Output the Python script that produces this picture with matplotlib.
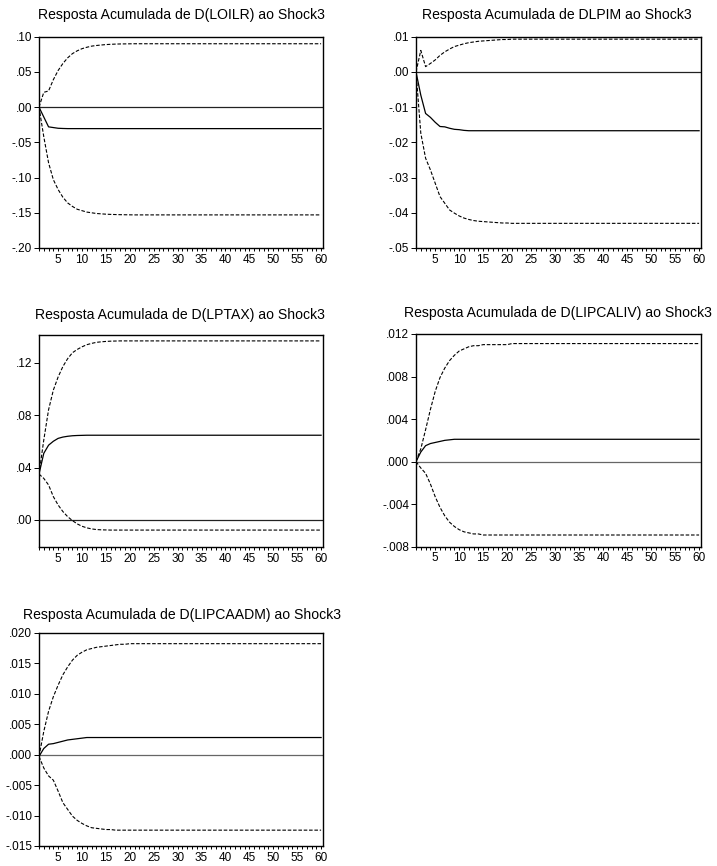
import matplotlib
matplotlib.use("Agg")
import matplotlib.pyplot as plt
from matplotlib.ticker import FixedLocator, MultipleLocator

plt.rcParams['font.family'] = ['Liberation Sans', 'DejaVu Sans']

periods = list(range(1, 61))

titles = [
    "Resposta Acumulada de D(LOILR) ao Shock3",
    "Resposta Acumulada de DLPIM ao Shock3",
    "Resposta Acumulada de D(LPTAX) ao Shock3",
    "Resposta Acumulada de D(LIPCALIV) ao Shock3",
    "Resposta Acumulada de D(LIPCAADM) ao Shock3",
]

# ---- D(LOILR) ----
resp_loilr = [
    0.000, -0.014, -0.028, -0.029, -0.030, -0.0303, -0.0305, -0.0305, -0.0305, -0.0305,
    -0.0305, -0.0305, -0.0305, -0.0305, -0.0305, -0.0305, -0.0305, -0.0305, -0.0305, -0.0305,
    -0.0305, -0.0305, -0.0305, -0.0305, -0.0305, -0.0305, -0.0305, -0.0305, -0.0305, -0.0305,
    -0.0305, -0.0305, -0.0305, -0.0305, -0.0305, -0.0305, -0.0305, -0.0305, -0.0305, -0.0305,
    -0.0305, -0.0305, -0.0305, -0.0305, -0.0305, -0.0305, -0.0305, -0.0305, -0.0305, -0.0305,
    -0.0305, -0.0305, -0.0305, -0.0305, -0.0305, -0.0305, -0.0305, -0.0305, -0.0305, -0.0305,
]
upper_loilr = [
    0.000, 0.021, 0.023, 0.039, 0.052, 0.062, 0.070, 0.076, 0.080, 0.083,
    0.085, 0.0866, 0.0875, 0.0882, 0.0888, 0.0892, 0.0895, 0.0897, 0.0898, 0.0899,
    0.0900, 0.0900, 0.0900, 0.0900, 0.0900, 0.0900, 0.0900, 0.0900, 0.0900, 0.0900,
    0.0900, 0.0900, 0.0900, 0.0900, 0.0900, 0.0900, 0.0900, 0.0900, 0.0900, 0.0900,
    0.0900, 0.0900, 0.0900, 0.0900, 0.0900, 0.0900, 0.0900, 0.0900, 0.0900, 0.0900,
    0.0900, 0.0900, 0.0900, 0.0900, 0.0900, 0.0900, 0.0900, 0.0900, 0.0900, 0.0900,
]
lower_loilr = [
    0.000, -0.042, -0.079, -0.103, -0.117, -0.128, -0.136, -0.141, -0.145, -0.147,
    -0.149, -0.150, -0.151, -0.1515, -0.152, -0.1523, -0.1525, -0.1527, -0.1528, -0.1529,
    -0.153, -0.153, -0.153, -0.153, -0.153, -0.153, -0.153, -0.153, -0.153, -0.153,
    -0.153, -0.153, -0.153, -0.153, -0.153, -0.153, -0.153, -0.153, -0.153, -0.153,
    -0.153, -0.153, -0.153, -0.153, -0.153, -0.153, -0.153, -0.153, -0.153, -0.153,
    -0.153, -0.153, -0.153, -0.153, -0.153, -0.153, -0.153, -0.153, -0.153, -0.153,
]

# ---- DLPIM ----
resp_dlpim = [
    0.000, -0.0066, -0.0118, -0.0129, -0.0143, -0.0155, -0.0156, -0.0160, -0.0163, -0.0164,
    -0.0166, -0.0167, -0.0167, -0.0167, -0.0167, -0.0167, -0.0167, -0.0167, -0.0167, -0.0167,
    -0.0167, -0.0167, -0.0167, -0.0167, -0.0167, -0.0167, -0.0167, -0.0167, -0.0167, -0.0167,
    -0.0167, -0.0167, -0.0167, -0.0167, -0.0167, -0.0167, -0.0167, -0.0167, -0.0167, -0.0167,
    -0.0167, -0.0167, -0.0167, -0.0167, -0.0167, -0.0167, -0.0167, -0.0167, -0.0167, -0.0167,
    -0.0167, -0.0167, -0.0167, -0.0167, -0.0167, -0.0167, -0.0167, -0.0167, -0.0167, -0.0167,
]
upper_dlpim = [
    0.000, 0.0061, 0.0015, 0.0024, 0.0034, 0.0047, 0.0057, 0.0065, 0.0072, 0.0076,
    0.0080, 0.0083, 0.0085, 0.0087, 0.0088, 0.0089, 0.0090, 0.0091, 0.0092, 0.0092,
    0.0093, 0.0093, 0.0093, 0.0093, 0.0093, 0.0093, 0.0093, 0.0093, 0.0093, 0.0093,
    0.0093, 0.0093, 0.0093, 0.0093, 0.0093, 0.0093, 0.0093, 0.0093, 0.0093, 0.0093,
    0.0093, 0.0093, 0.0093, 0.0093, 0.0093, 0.0093, 0.0093, 0.0093, 0.0093, 0.0093,
    0.0093, 0.0093, 0.0093, 0.0093, 0.0093, 0.0093, 0.0093, 0.0093, 0.0093, 0.0093,
]
lower_dlpim = [
    0.000, -0.0174, -0.0245, -0.0278, -0.0316, -0.0354, -0.0373, -0.0392, -0.0401, -0.0409,
    -0.0415, -0.0419, -0.0422, -0.0424, -0.0425, -0.0426, -0.0427, -0.0428, -0.0429, -0.0429,
    -0.0430, -0.0430, -0.0430, -0.0430, -0.0430, -0.0430, -0.0430, -0.0430, -0.0430, -0.0430,
    -0.0430, -0.0430, -0.0430, -0.0430, -0.0430, -0.0430, -0.0430, -0.0430, -0.0430, -0.0430,
    -0.0430, -0.0430, -0.0430, -0.0430, -0.0430, -0.0430, -0.0430, -0.0430, -0.0430, -0.0430,
    -0.0430, -0.0430, -0.0430, -0.0430, -0.0430, -0.0430, -0.0430, -0.0430, -0.0430, -0.0430,
]

# ---- D(LPTAX) ----
resp_lptax = [
    0.035, 0.0508, 0.0570, 0.0600, 0.0622, 0.0632, 0.0638, 0.0642, 0.0644, 0.0645,
    0.0646, 0.0646, 0.0646, 0.0646, 0.0646, 0.0646, 0.0646, 0.0646, 0.0646, 0.0646,
    0.0646, 0.0646, 0.0646, 0.0646, 0.0646, 0.0646, 0.0646, 0.0646, 0.0646, 0.0646,
    0.0646, 0.0646, 0.0646, 0.0646, 0.0646, 0.0646, 0.0646, 0.0646, 0.0646, 0.0646,
    0.0646, 0.0646, 0.0646, 0.0646, 0.0646, 0.0646, 0.0646, 0.0646, 0.0646, 0.0646,
    0.0646, 0.0646, 0.0646, 0.0646, 0.0646, 0.0646, 0.0646, 0.0646, 0.0646, 0.0646,
]
upper_lptax = [
    0.035, 0.061, 0.084, 0.099, 0.109, 0.117, 0.123, 0.1275, 0.130, 0.132,
    0.1336, 0.1346, 0.1354, 0.1358, 0.1361, 0.1363, 0.1364, 0.1365, 0.1365, 0.1365,
    0.1365, 0.1365, 0.1365, 0.1365, 0.1365, 0.1365, 0.1365, 0.1365, 0.1365, 0.1365,
    0.1365, 0.1365, 0.1365, 0.1365, 0.1365, 0.1365, 0.1365, 0.1365, 0.1365, 0.1365,
    0.1365, 0.1365, 0.1365, 0.1365, 0.1365, 0.1365, 0.1365, 0.1365, 0.1365, 0.1365,
    0.1365, 0.1365, 0.1365, 0.1365, 0.1365, 0.1365, 0.1365, 0.1365, 0.1365, 0.1365,
]
lower_lptax = [
    0.035, 0.0317, 0.0267, 0.0178, 0.0114, 0.0064, 0.0025, -0.0005, -0.0030, -0.0048,
    -0.0060, -0.0068, -0.0073, -0.0075, -0.0076, -0.0077, -0.0077, -0.0077, -0.0077, -0.0077,
    -0.0077, -0.0077, -0.0077, -0.0077, -0.0077, -0.0077, -0.0077, -0.0077, -0.0077, -0.0077,
    -0.0077, -0.0077, -0.0077, -0.0077, -0.0077, -0.0077, -0.0077, -0.0077, -0.0077, -0.0077,
    -0.0077, -0.0077, -0.0077, -0.0077, -0.0077, -0.0077, -0.0077, -0.0077, -0.0077, -0.0077,
    -0.0077, -0.0077, -0.0077, -0.0077, -0.0077, -0.0077, -0.0077, -0.0077, -0.0077, -0.0077,
]

# ---- D(LIPCALIV) ----
resp_lipcaliv = [
    0.0000, 0.0009, 0.0015, 0.0017, 0.0018, 0.0019, 0.0020, 0.00205, 0.0021, 0.0021,
    0.0021, 0.0021, 0.0021, 0.0021, 0.0021, 0.0021, 0.0021, 0.0021, 0.0021, 0.0021,
    0.0021, 0.0021, 0.0021, 0.0021, 0.0021, 0.0021, 0.0021, 0.0021, 0.0021, 0.0021,
    0.0021, 0.0021, 0.0021, 0.0021, 0.0021, 0.0021, 0.0021, 0.0021, 0.0021, 0.0021,
    0.0021, 0.0021, 0.0021, 0.0021, 0.0021, 0.0021, 0.0021, 0.0021, 0.0021, 0.0021,
    0.0021, 0.0021, 0.0021, 0.0021, 0.0021, 0.0021, 0.0021, 0.0021, 0.0021, 0.0021,
]
upper_lipcaliv = [
    0.0000, 0.0012, 0.0030, 0.0049, 0.0066, 0.0079, 0.0088, 0.0095, 0.0100, 0.0104,
    0.0106, 0.0108, 0.0109, 0.0109, 0.0110, 0.0110, 0.0110, 0.0110, 0.0110, 0.0110,
    0.0111, 0.0111, 0.0111, 0.0111, 0.0111, 0.0111, 0.0111, 0.0111, 0.0111, 0.0111,
    0.0111, 0.0111, 0.0111, 0.0111, 0.0111, 0.0111, 0.0111, 0.0111, 0.0111, 0.0111,
    0.0111, 0.0111, 0.0111, 0.0111, 0.0111, 0.0111, 0.0111, 0.0111, 0.0111, 0.0111,
    0.0111, 0.0111, 0.0111, 0.0111, 0.0111, 0.0111, 0.0111, 0.0111, 0.0111, 0.0111,
]
lower_lipcaliv = [
    0.0000, -0.0006, -0.0011, -0.0021, -0.0033, -0.0043, -0.0051, -0.0057, -0.0061, -0.0064,
    -0.0066, -0.0067, -0.0068, -0.0068, -0.0069, -0.0069, -0.0069, -0.0069, -0.0069, -0.0069,
    -0.0069, -0.0069, -0.0069, -0.0069, -0.0069, -0.0069, -0.0069, -0.0069, -0.0069, -0.0069,
    -0.0069, -0.0069, -0.0069, -0.0069, -0.0069, -0.0069, -0.0069, -0.0069, -0.0069, -0.0069,
    -0.0069, -0.0069, -0.0069, -0.0069, -0.0069, -0.0069, -0.0069, -0.0069, -0.0069, -0.0069,
    -0.0069, -0.0069, -0.0069, -0.0069, -0.0069, -0.0069, -0.0069, -0.0069, -0.0069, -0.0069,
]

# ---- D(LIPCAADM) ----
resp_lipcaadm = [
    -0.0003, 0.0010, 0.0017, 0.0018, 0.0020, 0.0022, 0.0024, 0.0025, 0.0026, 0.0027,
    0.0028, 0.0028, 0.0028, 0.0028, 0.0028, 0.0028, 0.0028, 0.0028, 0.0028, 0.0028,
    0.0028, 0.0028, 0.0028, 0.0028, 0.0028, 0.0028, 0.0028, 0.0028, 0.0028, 0.0028,
    0.0028, 0.0028, 0.0028, 0.0028, 0.0028, 0.0028, 0.0028, 0.0028, 0.0028, 0.0028,
    0.0028, 0.0028, 0.0028, 0.0028, 0.0028, 0.0028, 0.0028, 0.0028, 0.0028, 0.0028,
    0.0028, 0.0028, 0.0028, 0.0028, 0.0028, 0.0028, 0.0028, 0.0028, 0.0028, 0.0028,
]
upper_lipcaadm = [
    -0.0003, 0.0038, 0.0071, 0.0095, 0.0114, 0.0131, 0.0144, 0.0155, 0.0163, 0.0168,
    0.0172, 0.0174, 0.0176, 0.0177, 0.0178, 0.0179, 0.0180, 0.0181, 0.0181, 0.0182,
    0.0182, 0.0182, 0.0182, 0.0182, 0.0182, 0.0182, 0.0182, 0.0182, 0.0182, 0.0182,
    0.0182, 0.0182, 0.0182, 0.0182, 0.0182, 0.0182, 0.0182, 0.0182, 0.0182, 0.0182,
    0.0182, 0.0182, 0.0182, 0.0182, 0.0182, 0.0182, 0.0182, 0.0182, 0.0182, 0.0182,
    0.0182, 0.0182, 0.0182, 0.0182, 0.0182, 0.0182, 0.0182, 0.0182, 0.0182, 0.0182,
]
lower_lipcaadm = [
    -0.0003, -0.0022, -0.0035, -0.0042, -0.0060, -0.0079, -0.0090, -0.0101, -0.0108, -0.0113,
    -0.0117, -0.0120, -0.0121, -0.0122, -0.0123, -0.0123, -0.0124, -0.0124, -0.0124, -0.0124,
    -0.0124, -0.0124, -0.0124, -0.0124, -0.0124, -0.0124, -0.0124, -0.0124, -0.0124, -0.0124,
    -0.0124, -0.0124, -0.0124, -0.0124, -0.0124, -0.0124, -0.0124, -0.0124, -0.0124, -0.0124,
    -0.0124, -0.0124, -0.0124, -0.0124, -0.0124, -0.0124, -0.0124, -0.0124, -0.0124, -0.0124,
    -0.0124, -0.0124, -0.0124, -0.0124, -0.0124, -0.0124, -0.0124, -0.0124, -0.0124, -0.0124,
]

# y-axis ticks and labels for each panel
yticks_loilr = [-0.20, -0.15, -0.10, -0.05, 0.00, 0.05, 0.10]
ylabels_loilr = ["-.20", "-.15", "-.10", "-.05", ".00", ".05", ".10"]
yticks_dlpim = [-0.05, -0.04, -0.03, -0.02, -0.01, 0.00, 0.01]
ylabels_dlpim = ["-.05", "-.04", "-.03", "-.02", "-.01", ".00", ".01"]
yticks_lptax = [0.00, 0.04, 0.08, 0.12]
ylabels_lptax = [".00", ".04", ".08", ".12"]
yticks_lipcaliv = [-0.008, -0.004, 0.000, 0.004, 0.008, 0.012]
ylabels_lipcaliv = ["-.008", "-.004", ".000", ".004", ".008", ".012"]
yticks_lipcaadm = [-0.015, -0.010, -0.005, 0.000, 0.005, 0.010, 0.015, 0.020]
ylabels_lipcaadm = ["-.015", "-.010", "-.005", ".000", ".005", ".010", ".015", ".020"]

xticks_major = [5, 10, 15, 20, 25, 30, 35, 40, 45, 50, 55, 60]

W, H = 717, 866
fig = plt.figure(figsize=(W / 100, H / 100), dpi=100)


def px_axes(left, top, right, bottom):
    return fig.add_axes([left / W, 1 - bottom / H, (right - left) / W, (bottom - top) / H])


panels = [
    dict(rect=(39, 36.7, 323, 248), ylim=(-0.20, 0.10), title_xy=(181, 15),
         resp=resp_loilr, up=upper_loilr, lo=lower_loilr,
         yt=yticks_loilr, yl=ylabels_loilr, zero_color="#222222"),
    dict(rect=(416, 36.7, 701, 248), ylim=(-0.05, 0.01), title_xy=(557, 15),
         resp=resp_dlpim, up=upper_dlpim, lo=lower_dlpim,
         yt=yticks_dlpim, yl=ylabels_dlpim, zero_color="#222222"),
    dict(rect=(39, 335, 323, 547), ylim=(-0.0206, 0.141), title_xy=(180, 315),
         resp=resp_lptax, up=upper_lptax, lo=lower_lptax,
         yt=yticks_lptax, yl=ylabels_lptax, zero_color="#222222"),
    dict(rect=(416, 334, 701, 546.7), ylim=(-0.008, 0.012), title_xy=(558, 313),
         resp=resp_lipcaliv, up=upper_lipcaliv, lo=lower_lipcaliv,
         yt=yticks_lipcaliv, yl=ylabels_lipcaliv, zero_color="#666666"),
    dict(rect=(39, 632.7, 323, 846), ylim=(-0.015, 0.020), title_xy=(182, 615),
         resp=resp_lipcaadm, up=upper_lipcaadm, lo=lower_lipcaadm,
         yt=yticks_lipcaadm, yl=ylabels_lipcaadm, zero_color="#666666"),
]

for title, p in zip(titles, panels):
    ax = px_axes(*p["rect"])
    ax.axhline(0, color=p["zero_color"], lw=0.9, zorder=1)
    ax.plot(periods, p["up"], color="black", lw=0.8, dashes=(3.2, 1.6), zorder=2)
    ax.plot(periods, p["lo"], color="black", lw=0.8, dashes=(3.2, 1.6), zorder=2)
    ax.plot(periods, p["resp"], color="black", lw=0.9, zorder=3)
    ax.set_xlim(1, 60.4)
    ax.set_ylim(*p["ylim"])
    ax.xaxis.set_major_locator(FixedLocator(xticks_major))
    ax.xaxis.set_minor_locator(MultipleLocator(1))
    ax.set_xticklabels([str(v) for v in xticks_major])
    ax.set_yticks(p["yt"])
    ax.set_yticklabels(p["yl"])
    ax.tick_params(axis="both", which="both", direction="out", top=False, right=False,
                   labelsize=8.5, width=0.7, color="black", pad=1.5)
    ax.tick_params(axis="x", which="both", length=2.5)
    ax.tick_params(axis="y", which="major", length=3.5)
    for s in ax.spines.values():
        s.set_linewidth(1.0)
        s.set_color("black")
    tx, ty = p["title_xy"]
    fig.text(tx / W, 1 - ty / H, title, ha="center", va="center", fontsize=10.1)

fig.savefig("out.png", dpi=100)
